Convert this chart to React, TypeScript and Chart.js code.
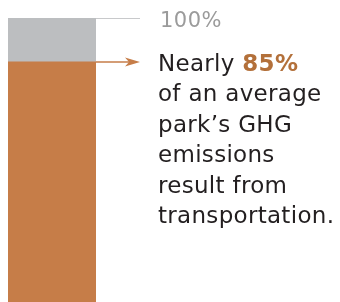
import React, { useEffect, useRef } from "react";
import { Chart, registerables } from "chart.js";

Chart.register(...registerables);

const categories = ["Average park"];
const transportationShare = [85];
const otherShare = [15];
const totalLabel = "100%";
const headlinePrefix = "Nearly ";
const headlineHighlight = "85%";
const bodyLines = ["of an average", "park\u2019s GHG", "emissions", "result from", "transportation."];

const ORANGE = "#C67D48";
const GRAY = "#BCBEC0";
const TEXT_ORANGE = "#B3703A";
const FONT = "'DejaVu Sans', sans-serif";

const annotationPlugin = {
  id: "annotations",
  afterDraw(chart: any) {
    const ctx = chart.ctx as CanvasRenderingContext2D & { letterSpacing?: string };
    const yScale = chart.scales.y;
    const right = chart.chartArea.right;
    const total = transportationShare[0] + otherShare[0];
    const yTop = Math.round(yScale.getPixelForValue(total)) + 0.5;
    const yShare = Math.round(yScale.getPixelForValue(transportationShare[0]));
    const lineEnd = right + 44;
    const textX = right + 62;

    ctx.save();
    ctx.strokeStyle = "#C8C9CB";
    ctx.lineWidth = 1;
    ctx.beginPath();
    ctx.moveTo(right, yTop);
    ctx.lineTo(lineEnd, yTop);
    ctx.stroke();

    ctx.strokeStyle = ORANGE;
    ctx.fillStyle = ORANGE;
    ctx.lineWidth = 1.5;
    ctx.beginPath();
    ctx.moveTo(right, yShare);
    ctx.lineTo(lineEnd - 8, yShare);
    ctx.stroke();
    ctx.beginPath();
    ctx.moveTo(lineEnd, yShare);
    ctx.lineTo(lineEnd - 15, yShare - 4.5);
    ctx.lineTo(lineEnd - 11, yShare);
    ctx.lineTo(lineEnd - 15, yShare + 4.5);
    ctx.closePath();
    ctx.fill();

    ctx.textBaseline = "alphabetic";
    ctx.textAlign = "left";
    ctx.fillStyle = "#9B9B9B";
    ctx.letterSpacing = "0.5px";
    ctx.font = `21px ${FONT}`;
    ctx.fillText(totalLabel, textX + 2, yTop + 8.5);

    const base = yShare + 9;
    const lh = 30.4;
    ctx.letterSpacing = "0.3px";
    ctx.font = `23px ${FONT}`;
    ctx.fillStyle = "#231F20";
    ctx.fillText(headlinePrefix, textX, base);
    const w = ctx.measureText(headlinePrefix).width;
    ctx.font = `bold 23px ${FONT}`;
    ctx.fillStyle = TEXT_ORANGE;
    ctx.fillText(headlineHighlight, textX + w, base);
    ctx.font = `23px ${FONT}`;
    ctx.fillStyle = "#231F20";
    bodyLines.forEach((line, i) => {
      ctx.fillText(line, textX, base + lh * (i + 1));
    });
    ctx.restore();
  },
};

export default function App() {
  const ref = useRef<HTMLCanvasElement>(null);
  useEffect(() => {
    if (!ref.current) return;
    const chart = new Chart(ref.current, {
      type: "bar",
      data: {
        labels: categories,
        datasets: [
          { label: "Transportation", data: transportationShare, backgroundColor: ORANGE, borderWidth: 0 },
          { label: "Other", data: otherShare, backgroundColor: GRAY, borderWidth: 0 },
        ],
      },
      options: {
        responsive: false,
        animation: false,
        devicePixelRatio: 1,
        layout: { padding: { top: 10, left: 0, right: 244, bottom: 1 } },
        plugins: { legend: { display: false }, tooltip: { enabled: false }, title: { display: false } },
        datasets: { bar: { barPercentage: 1, categoryPercentage: 1 } },
        scales: {
          x: { stacked: true, display: false },
          y: { stacked: true, display: false, min: 0, max: 100 },
        },
      },
      plugins: [annotationPlugin],
    });
    return () => chart.destroy();
  }, []);
  return (
    <div style={{ position: "relative", width: 332, height: 294, overflow: "hidden" }}>
      <canvas ref={ref} width={332} height={304} style={{ display: "block" }} />
    </div>
  );
}
